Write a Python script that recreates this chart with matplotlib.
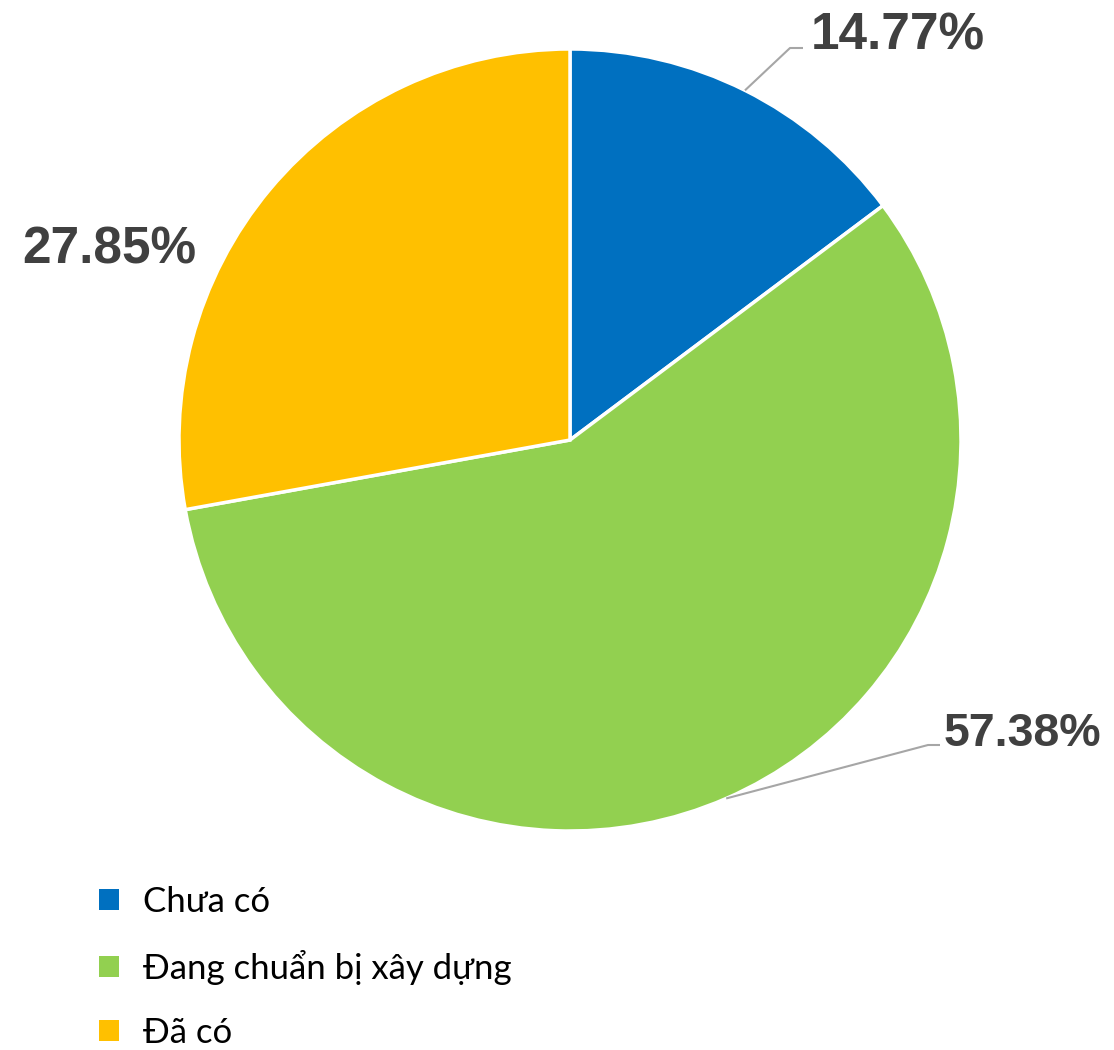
import numpy as np
import matplotlib.pyplot as plt
from matplotlib.patches import Patch

labels = ["Chưa có", "Đang chuẩn bị xây dựng", "Đã có"]
values = [14.77, 57.38, 27.85]
colors = ["#0070C0", "#92D050", "#FFC000"]

W, H = 1114, 1050
fig = plt.figure(figsize=(W / 100, H / 100), dpi=100)
ax = fig.add_axes([0, 0, 1, 1])

cx, cy, R = 570, H - 440, 391

wedges, _ = ax.pie(
    values,
    colors=colors,
    startangle=90,
    counterclock=False,
    center=(cx, cy),
    radius=R,
    frame=True,
    wedgeprops=dict(edgecolor="white", linewidth=2.5),
)
ax.set_xlim(0, W)
ax.set_ylim(0, H)
ax.set_aspect("equal")
ax.axis("off")

# mid angles of each slice
cum = np.cumsum([0] + values)
mids = [90 - (cum[i] + values[i] / 2) * 3.6 for i in range(len(values))]

label_font = dict(family=["Liberation Sans", "DejaVu Sans"],
                  fontweight="bold", color="#404040")

# leader lines: (elbow, end of line, text anchor, font size)
leaders = {
    0: ((790, H - 48), (803, H - 48), (811, H - 49), 37),
    1: ((928, H - 745), (940, H - 745), (944, H - 746), 33.5),
}

for i, v in enumerate(values):
    a = np.deg2rad(mids[i])
    ex, ey = cx + R * np.cos(a), cy + R * np.sin(a)
    txt = f"{v:.2f}%"
    if i in leaders:
        elbow, end, anchor, fs = leaders[i]
        ax.plot([ex, elbow[0], end[0]], [ey, elbow[1], end[1]],
                color="#A6A6A6", lw=1.5, solid_capstyle="butt")
        ax.text(anchor[0], anchor[1], txt, ha="left", va="baseline",
                fontsize=fs, **label_font)
    else:
        ax.text(22, H - 263, txt, ha="left", va="baseline",
                fontsize=37, **label_font)

handles = [Patch(facecolor=c, edgecolor="none") for c in colors]
fig.legend(
    handles, labels,
    loc="upper left",
    bbox_to_anchor=(99 / W, 1 - 886 / H),
    frameon=False,
    prop=dict(family=["Lato", "DejaVu Sans"], size=25),
    handlelength=0.57, handleheight=0.57,
    handletextpad=0.7,
    labelspacing=0.92,
    borderpad=0, borderaxespad=0,
)

fig.savefig("out.png", dpi=100)
